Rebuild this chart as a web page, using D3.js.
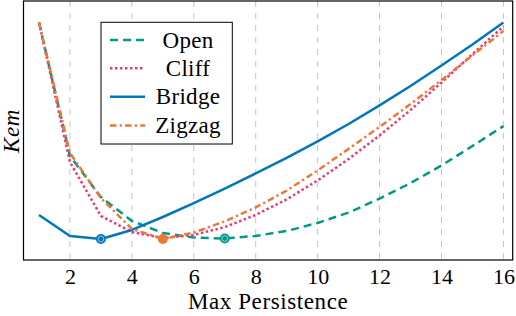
<!DOCTYPE html>
<html><head><meta charset="utf-8">
<script src="https://cdn.jsdelivr.net/npm/d3@7"></script>
<style>
html,body{margin:0;padding:0;background:#fff;}
</style></head>
<body>
<svg id="chart" width="516" height="316"></svg>
<script>
// ---- data ----
const xValues = [1,2,3,4,5,6,7,8,9,10,11,12,13,14,15,16];
const openValues   = [91.7,40.2,24.3,15.1,10.4,8.7,8.3,9.3,11.2,14.3,18.3,23.7,29.7,36.5,44.0,51.7];
const cliffValues  = [91.7,37.8,17.0,10.8,8.5,9.7,12.7,17.4,23.4,30.7,39.0,48.1,57.9,68.5,79.5,90.2];
const bridgeValues = [17.4,9.3,8.1,11.6,16.6,22.0,27.6,33.4,39.4,45.8,52.5,59.7,67.2,75.1,83.2,91.7];
const zigzagValues = [91.7,41.3,23.9,12.0,8.1,10.6,14.9,20.3,26.8,34.6,42.9,51.4,60.2,69.5,79.0,88.4];
const seriesNames = ["Open","Cliff","Bridge","Zigzag"];
const xTicks = [2,4,6,8,10,12,14,16];
const xLabel = "Max Persistence";
const yLabel = "Kem";

const FONT = '"Liberation Serif"';

const series = [
  {name:"Open",   values:openValues,   color:"#009988", dash:"8,5"},
  {name:"Cliff",  values:cliffValues,  color:"#EE3377", dash:"2.4,2.6"},
  {name:"Bridge", values:bridgeValues, color:"#0077BB", dash:null},
  {name:"Zigzag", values:zigzagValues, color:"#EE7733", dash:"6.5,3.2,2.2,3.2"}
];

const svg = d3.select("#chart");
const L = 23.5, R = 512.7, T = 1, B = 260;
const x = d3.scaleLinear().domain([0.5, 16.3]).range([L, R]);
const y = d3.scaleLinear().domain([0, 100]).range([B, T]);

// grid
svg.append("g").selectAll("line").data(xTicks).join("line")
  .attr("x1", d => x(d)).attr("x2", d => x(d))
  .attr("y1", T).attr("y2", B)
  .attr("stroke", "#c4c4c4").attr("stroke-width", 1)
  .attr("stroke-dasharray", "6,6");

// x axis (labels only, via d3 axis)
const ax = svg.append("g").attr("transform", `translate(0,${B})`)
  .call(d3.axisBottom(x).tickValues(xTicks).tickSize(0).tickPadding(8).tickFormat(d3.format("d")));
ax.attr("font-family", null).attr("font-size", null);
ax.select(".domain").remove();
ax.selectAll("text").attr("fill", "#000").style("font-family", FONT).style("font-size", "22px");

// lines
const line = d3.line().x((d, i) => x(xValues[i])).y(d => y(d));
series.forEach(s => {
  svg.append("path").datum(s.values)
    .attr("d", line).attr("fill", "none")
    .attr("stroke", s.color).attr("stroke-width", 2.5)
    .attr("stroke-linejoin", "round").attr("stroke-linecap", "butt")
    .attr("stroke-dasharray", s.dash);
});

// minima markers
[{s:series[2], ring:true},{s:series[3], ring:false},{s:series[0], ring:true}].forEach(m => {
  const vals = m.s.values;
  const i = vals.indexOf(d3.min(vals));
  svg.append("circle").attr("cx", x(xValues[i])).attr("cy", y(vals[i]))
    .attr("r", 5).attr("fill", m.s.color);
  if (m.ring) svg.append("circle").attr("cx", x(xValues[i])).attr("cy", y(vals[i]))
    .attr("r", 2.9).attr("fill", "none").attr("stroke", "#fff").attr("stroke-opacity", 0.8).attr("stroke-width", 0.7);
});

// frame
svg.append("rect").attr("x", L).attr("y", T).attr("width", R - L).attr("height", B - T)
  .attr("fill", "none").attr("stroke", "#000").attr("stroke-width", 1.2);

// axis labels
svg.append("text").attr("x", (L + R) / 2).attr("y", 309).attr("text-anchor", "middle")
  .style("font-family", FONT).style("font-size", "23px").attr("letter-spacing", 0.6).text(xLabel);
svg.append("text").attr("transform", `translate(19,131) rotate(-90)`)
  .attr("text-anchor", "middle").style("font-family", FONT)
  .style("font-size", "23px").style("font-style", "italic").attr("letter-spacing", 0.6).text(yLabel);

// legend
const lg = svg.append("g");
lg.append("rect").attr("x", 101).attr("y", 22.3).attr("width", 131.3).attr("height", 121.7)
  .attr("fill", "#fff").attr("stroke", "#000").attr("stroke-width", 1);
const rowY = [40, 68.3, 96.8, 125.5];
series.forEach((s, i) => {
  lg.append("line").attr("x1", 110).attr("x2", 145).attr("y1", rowY[i]).attr("y2", rowY[i])
    .attr("stroke", s.color).attr("stroke-width", 2.5).attr("stroke-dasharray", s.dash);
  lg.append("text").attr("x", 188).attr("y", rowY[i] + 7.5).attr("text-anchor", "middle")
    .style("font-family", FONT).style("font-size", "23px").attr("letter-spacing", 0.3).text(seriesNames[i]);
});
</script>
</body></html>
